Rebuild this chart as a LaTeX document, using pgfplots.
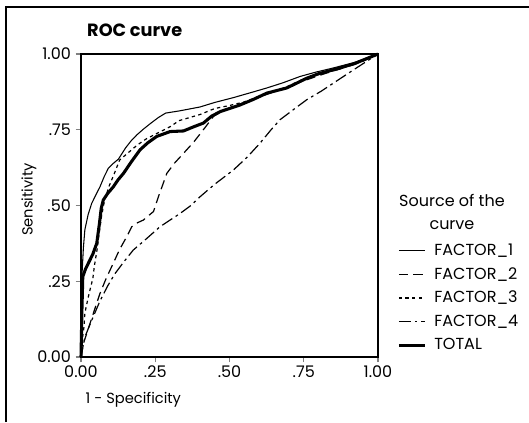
\documentclass[border=0pt]{standalone}
\usepackage{fontspec}
\setmainfont{Poppins}
\usepackage{pgfplots}
\pgfplotsset{compat=1.18}

\begin{document}
\begin{tikzpicture}
% page frame (529 x 422 px, 1px = 0.75pt)
\useasboundingbox (0pt,0pt) rectangle (396.75pt,316.5pt);
\draw[line width=0.8pt] (4.5pt,0pt) -- (4.5pt,311.25pt) -- (396.75pt,311.25pt);
\begin{axis}[
    at={(60.75pt,48.75pt)}, anchor=south west,
    scale only axis,
    width=222.75pt, height=227.25pt,
    xmin=0, xmax=1, ymin=0, ymax=1,
    xtick={0,0.25,0.5,0.75,1},
    xticklabels={0.00,.25,.50,.75,1.00},
    ytick={0,0.25,0.5,0.75,1},
    yticklabels={0.00,.25,.50,.75,1.00},
    tick align=outside,
    xtick pos=bottom, ytick pos=left,
    major tick length=4pt,
    tick style={line width=0.8pt},
    axis line style={line width=0.8pt},
    ticklabel style={font=\fontsize{12}{14}\selectfont},
    xticklabel style={yshift=1pt},
    xlabel={1 - Specificity},
    ylabel={Sensitivity},
    label style={font=\fontsize{11}{13}\selectfont},
    xlabel style={at={(axis description cs:0.0,-0.142)}, anchor=west},
    ylabel style={at={(axis description cs:-0.175,0.52)}, anchor=center},
    legend style={at={(axis description cs:1.064,0.384)}, anchor=north west,
        draw=none, fill=none, inner sep=0pt, row sep=3.6pt,
        font=\fontsize{12}{14}\selectfont},
    legend cell align=left,
    legend image code/.code={\draw[#1] (0pt,0pt) -- (19.5pt,0pt); \path (23.5pt,0pt);},
    clip=false,
]
% FACTOR_1
\addplot[black, line width=0.8pt] coordinates {
(0,0) (0.002,0.12) (0.003,0.265) (0.008,0.36) (0.013,0.42) (0.024,0.47)
(0.036,0.507) (0.05,0.535) (0.064,0.562) (0.078,0.595) (0.092,0.623)
(0.11,0.64) (0.126,0.653) (0.15,0.69) (0.17,0.715) (0.188,0.733)
(0.21,0.752) (0.233,0.77) (0.26,0.79) (0.285,0.805) (0.33,0.812)
(0.40,0.825) (0.45,0.84) (0.513,0.856) (0.57,0.872) (0.626,0.888)
(0.68,0.905) (0.738,0.926) (0.79,0.94) (0.85,0.954) (0.92,0.972) (1,1)};
\addlegendentry{FACTOR\_1}
% FACTOR_2
\addplot[black, line width=0.9pt, dash pattern=on 7pt off 4pt] coordinates {
(0,0) (0.008,0.044) (0.03,0.11) (0.064,0.21) (0.085,0.26) (0.109,0.31)
(0.13,0.355) (0.154,0.397) (0.171,0.43) (0.19,0.443) (0.21,0.452)
(0.244,0.48) (0.261,0.53) (0.289,0.606) (0.315,0.64) (0.345,0.672)
(0.38,0.71) (0.412,0.75) (0.446,0.794) (0.48,0.815) (0.52,0.83)
(0.58,0.85) (0.64,0.872) (0.70,0.893) (0.76,0.915) (0.82,0.935)
(0.88,0.953) (0.94,0.972) (1,1)};
\addlegendentry{FACTOR\_2}
% FACTOR_3
\addplot[black, line width=0.9pt, dash pattern=on 2.5pt off 2.5pt] coordinates {
(0,0) (0.005,0.06) (0.01,0.1) (0.013,0.145) (0.025,0.2) (0.04,0.26)
(0.045,0.30) (0.055,0.36) (0.06,0.40) (0.07,0.47) (0.08,0.52)
(0.095,0.565) (0.11,0.60) (0.13,0.65) (0.16,0.675) (0.19,0.70)
(0.22,0.72) (0.25,0.735) (0.30,0.76) (0.33,0.78) (0.40,0.80)
(0.45,0.82) (0.50,0.83) (0.55,0.842) (0.60,0.86) (0.65,0.875)
(0.70,0.895) (0.75,0.918) (0.81,0.935) (0.87,0.95) (0.93,0.97) (1,1)};
\addlegendentry{FACTOR\_3}
% FACTOR_4
\addplot[black, line width=0.9pt, dash pattern=on 9pt off 3pt on 2pt off 3pt] coordinates {
(0,0) (0.013,0.066) (0.036,0.121) (0.064,0.185) (0.09,0.235)
(0.115,0.276) (0.145,0.315) (0.176,0.353) (0.22,0.39) (0.266,0.43)
(0.30,0.452) (0.334,0.474) (0.37,0.50) (0.401,0.529) (0.45,0.57)
(0.513,0.617) (0.56,0.66) (0.603,0.706) (0.64,0.75) (0.67,0.783)
(0.72,0.82) (0.76,0.849) (0.81,0.878) (0.85,0.904) (0.918,0.948) (1,1)};
\addlegendentry{FACTOR\_4}
% TOTAL
\addplot[black, line width=2.3pt] coordinates {
(0,0) (0.003,0.15) (0.006,0.265) (0.015,0.29) (0.025,0.31)
(0.04,0.34) (0.053,0.375) (0.062,0.44) (0.068,0.49) (0.075,0.518)
(0.09,0.54) (0.109,0.562) (0.125,0.585) (0.143,0.606) (0.17,0.645)
(0.199,0.684) (0.225,0.707) (0.255,0.728) (0.3,0.744) (0.345,0.746)
(0.38,0.76) (0.412,0.772) (0.44,0.795) (0.469,0.81) (0.5,0.82)
(0.536,0.832) (0.58,0.85) (0.626,0.871) (0.693,0.888) (0.76,0.92)
(0.80,0.935) (0.85,0.948) (0.92,0.968) (1,1)};
\addlegendentry{TOTAL}
\node[anchor=west, font=\bfseries\fontsize{13.3}{16}\selectfont]
    at (axis description cs:0.005,1.079) {ROC curve};
\node[align=center, font=\fontsize{12}{17.25}\selectfont]
    at (axis description cs:1.249,0.478) {Source of the\\curve};
\end{axis}
\end{tikzpicture}
\end{document}
